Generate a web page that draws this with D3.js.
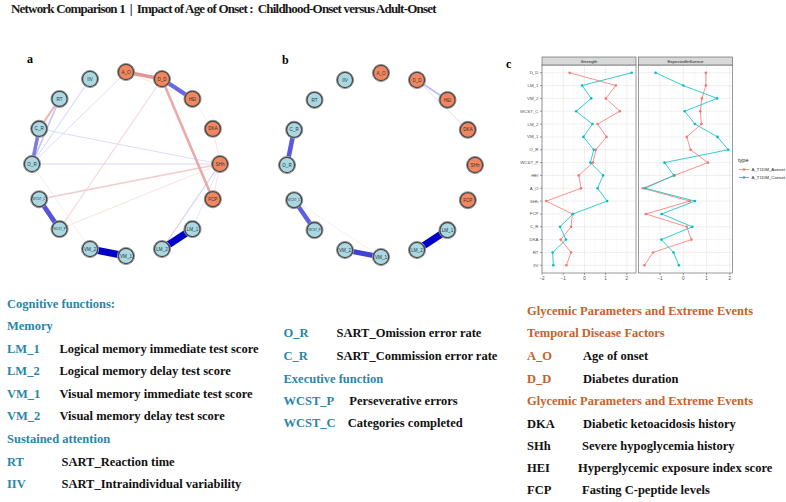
<!DOCTYPE html>
<html>
<head>
<meta charset="utf-8">
<script src="https://cdn.jsdelivr.net/npm/d3@7"></script>
<style>
  body { margin: 0; background: #fff; }
  svg { display: block; }
  .serif { font-family: 'Liberation Serif', 'Times New Roman', serif; font-weight: bold; }
  .sans { font-family: 'Liberation Sans', Arial, sans-serif; }
</style>
</head>
<body>
<svg id="fig" width="786" height="502"></svg>
<script>
// ---- data ----
const title = 'Network Comparison 1  |  Impact of Age of Onset :  Childhood-Onset versus Adult-Onset'

// nodes clockwise from the top of the circle
const nodes = ['A_O', 'D_D', 'HEI', 'DKA', 'SHh', 'FCP', 'LM_1', 'LM_2', 'VM_1', 'VM_2', 'WCST_P', 'WCST_C', 'O_R', 'C_R', 'RT', 'IIV']
const glycemicNodes = ['A_O', 'D_D', 'HEI', 'DKA', 'SHh', 'FCP']

const edgesA = [
  ['A_O', 'D_D', -0.35], ['D_D', 'HEI', 0.45], ['D_D', 'FCP', -0.26], ['D_D', 'WCST_P', -0.08],
  ['A_O', 'O_R', 0.06], ['IIV', 'O_R', 0.07], ['RT', 'C_R', -0.2], ['RT', 'O_R', 0.14],
  ['C_R', 'O_R', 0.38], ['O_R', 'SHh', 0.07], ['C_R', 'SHh', 0.06], ['WCST_C', 'SHh', -0.13],
  ['WCST_P', 'SHh', -0.05], ['WCST_C', 'WCST_P', 0.52], ['VM_2', 'VM_1', 0.8], ['LM_1', 'LM_2', 0.8],
  ['LM_2', 'SHh', 0.09], ['SHh', 'DKA', -0.05], ['SHh', 'FCP', -0.06], ['HEI', 'DKA', -0.03],
  ['O_R', 'VM_2', -0.03], ['A_O', 'HEI', -0.04], ['LM_1', 'SHh', 0.04]
]
const edgesB = [
  ['D_D', 'HEI', 0.16], ['D_D', 'DKA', 0.06], ['C_R', 'O_R', 0.5], ['WCST_C', 'WCST_P', 0.48],
  ['VM_2', 'VM_1', 0.58], ['LM_1', 'LM_2', 0.8], ['WCST_C', 'VM_1', 0.02]
]

// centrality plot (panel c), top to bottom
const centralityVars = ['D_D', 'LM_1', 'VM_2', 'WCST_C', 'LM_2', 'VM_1', 'O_R', 'WCST_P', 'HEI', 'A_O', 'SHh', 'FCP', 'C_R', 'DKA', 'RT', 'IIV']
const seriesNames = ['A_T1DM_Aonset', 'A_T1DM_Conset']
const strengthAonset = [-0.70, 1.48, 1.01, 1.67, 0.62, 1.04, 0.54, 0.40, -0.27, -0.16, -1.80, -0.57, -0.63, -1.12, -0.63, -0.85]
const strengthConset = [2.23, -0.11, 0.32, -0.39, 0.38, -0.05, 0.44, 0.28, 0.88, 0.62, 1.07, -0.54, -1.15, -0.87, -1.50, -1.47]
const eiAonset = [0.97, 0.97, 0.80, 0.73, 0.78, 0.15, 0.31, 1.06, -0.38, -1.74, 0.28, -1.61, 0.15, 0.35, -1.30, -1.67]
const eiConset = [-1.19, 0.00, 1.45, 0.06, 0.50, 1.47, 1.93, -0.81, -0.40, -1.64, 0.50, -0.93, 0.39, -0.94, -0.42, -0.19]
const facetNames = ['Strength', 'ExpectedInfluence']

// legend text
const cogHead = 'Cognitive functions:'
const memoryHead = 'Memory'
const memoryItems = [
  ['LM_1', 'Logical memory immediate test score'],
  ['LM_2', 'Logical memory delay test score'],
  ['VM_1', 'Visual memory immediate test score'],
  ['VM_2', 'Visual memory delay test score']
]
const attentionHead = 'Sustained attention'
const attentionItems = [['RT', 'SART_Reaction time'], ['IIV', 'SART_Intraindividual variability']]
const attentionItems2 = [['O_R', 'SART_Omission error rate'], ['C_R', 'SART_Commission error rate']]
const execHead = 'Executive function'
const execItems = [['WCST_P', 'Perseverative errors'], ['WCST_C', 'Categories completed']]
const glyHead = 'Glycemic Parameters and Extreme Events'
const temporalHead = 'Temporal Disease Factors'
const temporalItems = [['A_O', 'Age of onset'], ['D_D', 'Diabetes duration']]
const glyItems = [
  ['DKA', 'Diabetic ketoacidosis history'],
  ['SHh', 'Severe hypoglycemia history'],
  ['HEI', 'Hyperglycemic exposure index score'],
  ['FCP', 'Fasting C-peptide levels']
]

// ---- drawing ----
const svg = d3.select('#fig')
const teal = '#2a86a8', rust = '#c8612b'

svg.append('text').attr('class', 'serif')
  .attr('x', 11).attr('y', 12.8)
  .attr('font-size', 13).attr('letter-spacing', 0.5)
  .attr('fill', '#1a1a1a')
  .attr('textLength', 426).attr('lengthAdjust', 'spacing')
  .style('white-space', 'pre')
  .text(title)

const angle = d3.scaleLinear().domain([0, nodes.length]).range([0, 2 * Math.PI])
const maxW = 0.8
const posCol = d3.interpolateRgb('#ececff', '#0000c8')
const negCol = d3.interpolateRgb('#fcecec', '#d65a5a')

function drawNet(cx, cy, edges, letter) {
  const g = svg.append('g')
  const pos = {}
  nodes.forEach((n, i) => {
    pos[n] = [cx + 94 * Math.sin(angle(i)), cy - 92 * Math.cos(angle(i))]
  })

  g.append('text').attr('class', 'serif')
    .attr('x', cx - 99).attr('y', cy - 101)
    .attr('font-size', 12).text(letter)

  g.selectAll('line')
    .data(edges.slice().sort((a, b) => Math.abs(a[2]) - Math.abs(b[2])))
    .enter().append('line')
    .attr('x1', d => pos[d[0]][0]).attr('y1', d => pos[d[0]][1])
    .attr('x2', d => pos[d[1]][0]).attr('y2', d => pos[d[1]][1])
    .attr('stroke', d => {
      let t = Math.min(1, Math.abs(d[2]) / maxW)
      return d[2] > 0 ? posCol(t) : negCol(Math.min(1, t * 1.4))
    })
    .attr('stroke-width', d => 0.5 + 6.5 * Math.abs(d[2]) / maxW)

  let ng = g.selectAll('g.node').data(nodes).enter().append('g')
    .attr('transform', d => `translate(${pos[d][0]},${pos[d][1]})`)

  ng.append('circle').attr('r', 8.6)
    .attr('fill', 'none').attr('stroke', '#a0a0a0').attr('stroke-width', 1)
  ng.append('circle').attr('r', 7.6)
    .attr('fill', d => glycemicNodes.includes(d) ? '#f2875f' : '#a9d8e3')
    .attr('stroke', '#4a4a4a').attr('stroke-width', 1.4)
  ng.append('text').attr('class', 'sans')
    .attr('text-anchor', 'middle').attr('dy', '0.35em')
    .attr('font-size', d => d.length > 4 ? 3 : 4.6)
    .attr('fill', '#333')
    .text(d => d)
}

drawNet(126, 164, edgesA, 'a')
drawNet(381, 165, edgesB, 'b')

// ---- panel c: centrality plot ----
svg.append('text').attr('class', 'serif')
  .attr('x', 506).attr('y', 68).attr('font-size', 12).text('c')

const panelTop = 65, panelBottom = 273
const scY = d3.scalePoint().domain(centralityVars).range([panelTop, panelBottom]).padding(0.6)
const colors = ['#F8766D', '#00BFC4']

function drawFacet(x0, x1, name, valsA, valsC, showY) {
  const g = svg.append('g')
  const all = valsA.concat(valsC)
  const [lo, hi] = d3.extent(all)
  const pad = (hi - lo) * 0.05
  const scX = d3.scaleLinear().domain([lo - pad, hi + pad]).range([x0, x1])
  const ticks = d3.range(Math.ceil(lo - pad), Math.floor(hi + pad) + 1)
  const minor = d3.range(Math.ceil(lo - pad) - 0.5, hi + pad, 1).filter(v => v > lo - pad)

  g.append('rect').attr('x', x0).attr('y', panelTop).attr('width', x1 - x0).attr('height', panelBottom - panelTop)
    .attr('fill', '#fff')

  g.selectAll('line.minor').data(minor).enter().append('line')
    .attr('x1', d => scX(d)).attr('x2', d => scX(d)).attr('y1', panelTop).attr('y2', panelBottom)
    .attr('stroke', '#f3f3f3').attr('stroke-width', 0.4)
  g.selectAll('line.vmaj').data(ticks).enter().append('line')
    .attr('x1', d => scX(d)).attr('x2', d => scX(d)).attr('y1', panelTop).attr('y2', panelBottom)
    .attr('stroke', '#e6e6e6').attr('stroke-width', 0.6)
  g.selectAll('line.hmaj').data(centralityVars).enter().append('line')
    .attr('x1', x0).attr('x2', x1).attr('y1', d => scY(d)).attr('y2', d => scY(d))
    .attr('stroke', '#e6e6e6').attr('stroke-width', 0.6)

  const lineMkr = d3.line().x(d => scX(d[1])).y(d => scY(d[0]))
  ;[valsA, valsC].forEach((vals, k) => {
    const pts = centralityVars.map((v, i) => [v, vals[i]])
    g.append('path').attr('d', lineMkr(pts))
      .attr('fill', 'none').attr('stroke', colors[k]).attr('stroke-width', 0.8)
    g.selectAll(null).data(pts).enter().append('circle')
      .attr('cx', d => scX(d[1])).attr('cy', d => scY(d[0])).attr('r', 1.3)
      .attr('fill', colors[k])
  })

  g.append('rect').attr('x', x0).attr('y', panelTop).attr('width', x1 - x0).attr('height', panelBottom - panelTop)
    .attr('fill', 'none').attr('stroke', '#555').attr('stroke-width', 0.6)

  // strip
  g.append('rect').attr('x', x0).attr('y', 57).attr('width', x1 - x0).attr('height', 8)
    .attr('fill', '#d9d9d9').attr('stroke', '#555').attr('stroke-width', 0.6)
  g.append('text').attr('class', 'sans')
    .attr('x', (x0 + x1) / 2).attr('y', 62.6).attr('text-anchor', 'middle')
    .attr('font-size', 4.4).attr('fill', '#1a1a1a').text(name)

  // x axis
  g.selectAll('line.xt').data(ticks).enter().append('line')
    .attr('x1', d => scX(d)).attr('x2', d => scX(d)).attr('y1', panelBottom).attr('y2', panelBottom + 2)
    .attr('stroke', '#444').attr('stroke-width', 0.5)
  g.selectAll('text.xt').data(ticks).enter().append('text').attr('class', 'sans')
    .attr('x', d => scX(d)).attr('y', panelBottom + 7).attr('text-anchor', 'middle')
    .attr('font-size', 4.6).attr('fill', '#4d4d4d')
    .text(d => d < 0 ? '\u2212' + Math.abs(d) : d)

  if (showY) {
    g.selectAll('line.yt').data(centralityVars).enter().append('line')
      .attr('x1', x0 - 2).attr('x2', x0).attr('y1', d => scY(d)).attr('y2', d => scY(d))
      .attr('stroke', '#444').attr('stroke-width', 0.5)
    g.selectAll('text.yt').data(centralityVars).enter().append('text').attr('class', 'sans')
      .attr('x', x0 - 3.5).attr('y', d => scY(d)).attr('dy', '0.35em').attr('text-anchor', 'end')
      .attr('font-size', 4.4).attr('fill', '#4d4d4d')
      .text(d => d)
  }
}

drawFacet(542, 636, facetNames[0], strengthAonset, strengthConset, true)
drawFacet(638.5, 732.5, facetNames[1], eiAonset, eiConset, false)

// legend
const lg = svg.append('g').attr('class', 'sans')
lg.append('text').attr('x', 738).attr('y', 162).attr('font-size', 5.6).attr('fill', '#1a1a1a').text('type')
seriesNames.forEach((s, k) => {
  let y = 169.5 + k * 8
  lg.append('line').attr('x1', 739).attr('x2', 749).attr('y1', y).attr('y2', y)
    .attr('stroke', colors[k]).attr('stroke-width', 0.8)
  lg.append('circle').attr('cx', 744).attr('cy', y).attr('r', 1.3).attr('fill', colors[k])
  lg.append('text').attr('x', 751.5).attr('y', y).attr('dy', '0.35em')
    .attr('font-size', 4.4).attr('fill', '#1a1a1a').text(s)
})

// ---- lower legend text ----
const fs = 12.5
function head(x, y, txt, col) {
  svg.append('text').attr('class', 'serif').attr('x', x).attr('y', y)
    .attr('font-size', fs).attr('fill', col).text(txt)
}
function item(x, y, dx, pair, col) {
  svg.append('text').attr('class', 'serif').attr('x', x).attr('y', y)
    .attr('font-size', fs).attr('fill', col).text(pair[0])
  svg.append('text').attr('class', 'serif').attr('x', x + dx).attr('y', y)
    .attr('font-size', fs).attr('fill', '#111').text(pair[1])
}

head(7, 308, cogHead, teal)
head(7, 330, memoryHead, teal)
memoryItems.forEach((p, i) => item(7, 353 + i * 22.4, 52.5, p, teal))
head(7, 443, attentionHead, teal)
attentionItems.forEach((p, i) => item(7, 465.5 + i * 22, 54.5, p, teal))

attentionItems2.forEach((p, i) => item(283.5, 337.3 + i * 22.5, 53, p, teal))
head(283.5, 382.7, execHead, teal)
execItems.forEach((p, i) => item(283.5, 405 + i * 22.3, [65.8, 64.3][i], p, teal))

head(527, 315, glyHead, rust)
head(527, 337, temporalHead, rust)
temporalItems.forEach((p, i) => item(527, 360 + i * 22.5, 56, p, rust))
head(527, 405, glyHead, rust)
glyItems.forEach((p, i) => item(527, 428 + i * 22, [56, 55, 51, 55][i], p, '#111'))
</script>
</body>
</html>
